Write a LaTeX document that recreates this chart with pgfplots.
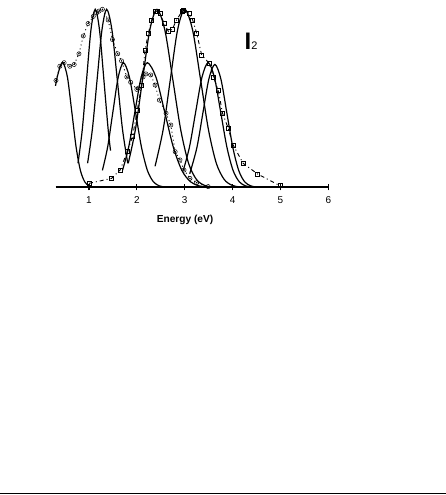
\documentclass[border=0pt]{standalone}
\usepackage{fontspec}
\setmainfont{Liberation Sans}
\usepackage{pgfplots}
\usepackage{pgfplotstable}
\pgfplotsset{compat=1.18}
\pgfplotstableread{
x y
0.31 0.60
0.39 0.68
0.48 0.70
0.60 0.68
0.69 0.69
0.79 0.75
0.88 0.85
0.98 0.92
1.09 0.96
1.16 0.98
1.21 0.99
1.28 1.00
1.40 0.94
1.49 0.83
1.60 0.75
1.68 0.71
1.79 0.62
1.87 0.59
2.00 0.55
2.03 0.557
2.13 0.62
2.19 0.637
2.29 0.631
2.38 0.575
2.47 0.49
2.61 0.416
2.71 0.35
2.80 0.20
2.90 0.154
2.985 0.097
3.11 0.05
3.25 0.026
3.49 0.004
}\circdata
\pgfplotstableread{
x y
1.00 0.022
1.47 0.05
1.65 0.097
1.80 0.20
1.91 0.285
2.01 0.434
2.10 0.575
2.17 0.77
2.24 0.865
2.31 0.94
2.38 0.987
2.43 0.99
2.48 0.978
2.57 0.92
2.66 0.875
2.74 0.888
2.83 0.94
2.94 0.987
2.97 0.996
3.095 0.977
3.166 0.94
3.25 0.865
3.354 0.743
3.51 0.697
3.60 0.62
3.70 0.547
3.79 0.416
3.91 0.331
4.01 0.238
4.22 0.135
4.52 0.075
4.99 0.009
}\sqdata
\begin{document}
\begin{tikzpicture}[x=1bp,y=1bp]
\path[use as bounding box] (0,0) rectangle (446,495);
\draw[line width=1bp] (0,1.7) -- (446,1.7);
\begin{axis}[
  at={(55.5bp,307.7bp)}, anchor=south west,
  scale only axis, width=272.8bp, height=186.9bp,
  xmin=0.3, xmax=6, ymin=0, ymax=1.05,
  hide y axis, axis x line*=bottom,
  x axis line style={-, line width=1.6bp},
  xtick={1,2,3,4,5,6},
  tick align=center, major tick length=6bp,
  tick style={line width=1.2bp, black},
  /pgf/number format/assume math mode=true,
  xticklabel style={font=\fontsize{10}{11}\selectfont, yshift=-3bp},
  clip=false,
]
% experimental data
\addplot[black, line width=0.9bp, dash pattern=on 1bp off 3bp,
  mark=o, mark size=2.1bp, mark options={solid, line width=0.5bp}] table {\circdata};
\addplot[black, only marks, mark=*, mark size=0.5bp] table {\circdata};
\addplot[black, line width=0.9bp, dash pattern=on 4bp off 3bp on 1bp off 3bp,
  mark=square, mark size=2bp, mark options={solid, line width=0.5bp}] table {\sqdata};
% fitted components
\addplot[black, line width=1.2bp, smooth, tension=0.5] coordinates {
(0.30,0.570) (0.335,0.618) (0.40,0.680) (0.46,0.700) (0.55,0.618) (0.64,0.425)
(0.73,0.227) (0.82,0.095) (0.91,0.031) (1.00,0.008) (1.09,0.002) (1.18,0) (1.60,0)};
\addplot[black, line width=1.2bp, smooth, tension=0.5] coordinates {
(0.77,0.135) (0.86,0.325) (0.95,0.607) (1.04,0.883) (1.13,1.0) (1.22,0.883)
(1.31,0.607) (1.40,0.325) (1.45,0.206)};
\addplot[black, line width=1.2bp, smooth, tension=0.5] coordinates {
(0.97,0.135) (1.07,0.325) (1.17,0.607) (1.27,0.883) (1.37,1.0) (1.48,0.883)
(1.59,0.607) (1.70,0.325) (1.81,0.135)};
\addplot[black, line width=1.2bp, smooth, tension=0.5] coordinates {
(1.28,0.095) (1.39,0.227) (1.50,0.425) (1.61,0.618) (1.72,0.70) (1.845,0.618)
(1.97,0.425) (2.095,0.227) (2.22,0.095) (2.345,0.031) (2.47,0.008) (2.595,0.0015) (2.72,0)};
\addplot[black, line width=1.2bp, smooth, tension=0.5] coordinates {
(1.70,0.095) (1.83,0.227) (1.96,0.425) (2.09,0.618) (2.22,0.70) (2.40,0.618)
(2.58,0.425) (2.76,0.227) (2.94,0.095) (3.12,0.031) (3.30,0.008) (3.48,0.0015) (3.66,0)};
\addplot[black, line width=1.2bp, smooth, tension=0.5] coordinates {
(1.82,0.135) (1.97,0.325) (2.12,0.607) (2.27,0.883) (2.42,1.0) (2.585,0.883)
(2.75,0.607) (2.915,0.325) (3.08,0.135) (3.245,0.044) (3.41,0.011) (3.575,0.002) (3.74,0)};
\addplot[black, line width=1.2bp, smooth, tension=0.5] coordinates {
(2.38,0.118) (2.55,0.325) (2.70,0.607) (2.85,0.883) (3.00,1.0) (3.165,0.883)
(3.33,0.607) (3.495,0.325) (3.66,0.135) (3.825,0.044) (3.99,0.011) (4.155,0.002) (4.32,0)};
\addplot[black, line width=1.2bp, smooth, tension=0.5] coordinates {
(2.97,0.095) (3.10,0.227) (3.23,0.425) (3.36,0.618) (3.49,0.70) (3.62,0.618)
(3.75,0.425) (3.88,0.227) (4.01,0.095) (4.14,0.031) (4.27,0.008) (4.40,0.0015) (4.53,0)};
\addplot[black, line width=1.2bp, smooth, tension=0.5] coordinates {
(3.105,0.076) (3.255,0.224) (3.38,0.418) (3.505,0.609) (3.63,0.69) (3.755,0.609)
(3.88,0.418) (4.005,0.224) (4.13,0.093) (4.255,0.030) (4.38,0.008) (4.505,0.0015) (4.63,0)};
\end{axis}
\node[anchor=base, font=\bfseries\fontsize{10.2}{12}\selectfont] at (185,272.7) {Energy (eV)};
\node[anchor=base west, inner sep=0pt] at (244.5,445) {{\bfseries\fontsize{24}{24}\selectfont I}{\fontsize{11}{11}\selectfont 2}};
\end{tikzpicture}
\end{document}
